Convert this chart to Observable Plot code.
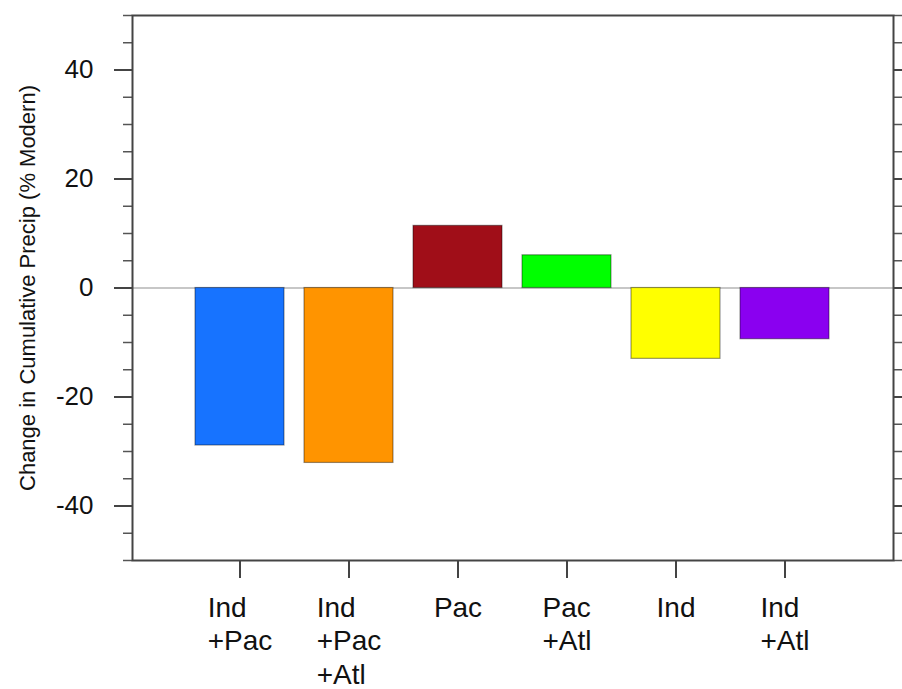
<!DOCTYPE html>
<html><head><meta charset="utf-8">
<script src="https://cdn.jsdelivr.net/npm/d3@7"></script>
<script src="https://cdn.jsdelivr.net/npm/@observablehq/plot@0.6"></script>
<style>body{margin:0;background:#fff;} svg{display:block;}</style>
</head><body><div id="chart"></div>
<script>
const categories = ["Ind\n+Pac", "Ind\n+Pac\n+Atl", "Pac", "Pac\n+Atl", "Ind", "Ind\n+Atl"];
const values = [-28.9, -32.1, 11.4, 6.0, -13.0, -9.4];
const colors = ["#1773ff", "#ff9400", "#a00e18", "#00ff00", "#ffff00", "#8a00f0"];
const yMajorTicks = [-40, -20, 0, 20, 40];
const yMinorTicks = [-50, -45, -40, -35, -30, -25, -20, -15, -10, -5, 0, 5, 10, 15, 20, 25, 30, 35, 40, 45, 50];
const yLabel = "Change in Cumulative Precip (% Modern)";

const data = categories.map((c, i) => ({cat: c, value: values[i], color: colors[i]}));

const plot = Plot.plot({
  width: 902, height: 689,
  marginLeft: 132, marginRight: 9, marginTop: 15, marginBottom: 129,
  style: {fontFamily: "'Liberation Sans', Arial, Helvetica, sans-serif", background: "#fff", color: "#111"},
  x: {domain: categories, paddingInner: 0.183, paddingOuter: 0.58, axis: null},
  y: {domain: [-50, 50], axis: null},
  marks: [
    Plot.ruleY([0], {stroke: "#b4b4b4", strokeWidth: 1.5}),
    Plot.barY(data, {x: "cat", y: "value", fill: "color", stroke: "#000", strokeOpacity: 0.4, strokeWidth: 1.2}),
    Plot.axisY(yMinorTicks, {anchor: "left", tickSize: 9, tickFormat: () => "", label: null, stroke: "#555", strokeWidth: 1.5}),
    Plot.axisY(yMinorTicks, {anchor: "right", tickSize: 9, tickFormat: () => "", label: null, stroke: "#555", strokeWidth: 1.5}),
    Plot.axisY(yMajorTicks, {anchor: "left", tickSize: 18, tickPadding: 21, fontSize: 26, tickFormat: d => String(d), label: null, stroke: "#444", strokeWidth: 2}),
    Plot.axisY(yMajorTicks, {anchor: "right", tickSize: 18, tickFormat: () => "", label: null, stroke: "#444", strokeWidth: 2}),
    Plot.axisX(categories, {anchor: "bottom", tickSize: 18, tickFormat: () => "", label: null, stroke: "#444", strokeWidth: 2}),
    Plot.text(categories, {x: d => d, frameAnchor: "bottom", textAnchor: "start", lineAnchor: "top", dy: 32, fontSize: 28, lineHeight: 1.21, fill: "#111"}),
    Plot.text([yLabel], {frameAnchor: "left", rotate: -90, textAnchor: "middle", lineAnchor: "bottom", dx: -98, fontSize: 22, fill: "#111"}),
    Plot.frame({stroke: "#444", strokeWidth: 2})
  ]
});
document.getElementById("chart").append(plot);
const flat = new Set(categories.map(c => c.replace(/\n/g, "")));
plot.querySelectorAll("text").forEach(t => {
  if (!flat.has(t.textContent.replace(/\s/g, ""))) return;
  const w = t.getBBox().width;
  const tr = t.getAttribute("transform") || "";
  t.setAttribute("transform", tr + ` translate(${-w / 2},0)`);
});
</script>
</body></html>
